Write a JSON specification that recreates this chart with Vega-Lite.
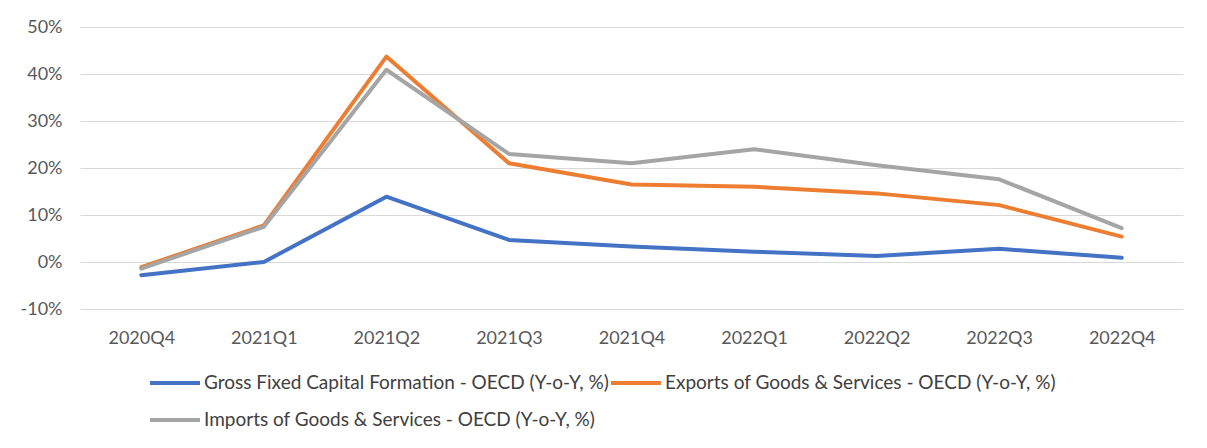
{
  "$schema": "https://vega.github.io/schema/vega-lite/v6.json",
  "width": 1103,
  "height": 282,
  "autosize": {"type": "none"},
  "padding": {"left": 80, "top": 27, "right": 24, "bottom": 139},
  "background": "white",
  "config": {
    "view": {"stroke": null},
    "font": "Lato",
    "axis": {"labelFont": "Lato", "labelColor": "#595959", "labelFontSize": 18}
  },
  "data": {
    "values": [
      {"quarter": "2020Q4", "series": "Gross Fixed Capital Formation - OECD (Y-o-Y, %)", "value": -0.028},
      {"quarter": "2021Q1", "series": "Gross Fixed Capital Formation - OECD (Y-o-Y, %)", "value": 0.0},
      {"quarter": "2021Q2", "series": "Gross Fixed Capital Formation - OECD (Y-o-Y, %)", "value": 0.139},
      {"quarter": "2021Q3", "series": "Gross Fixed Capital Formation - OECD (Y-o-Y, %)", "value": 0.047},
      {"quarter": "2021Q4", "series": "Gross Fixed Capital Formation - OECD (Y-o-Y, %)", "value": 0.033},
      {"quarter": "2022Q1", "series": "Gross Fixed Capital Formation - OECD (Y-o-Y, %)", "value": 0.022},
      {"quarter": "2022Q2", "series": "Gross Fixed Capital Formation - OECD (Y-o-Y, %)", "value": 0.013},
      {"quarter": "2022Q3", "series": "Gross Fixed Capital Formation - OECD (Y-o-Y, %)", "value": 0.028},
      {"quarter": "2022Q4", "series": "Gross Fixed Capital Formation - OECD (Y-o-Y, %)", "value": 0.009},
      {"quarter": "2020Q4", "series": "Exports of Goods & Services - OECD (Y-o-Y, %)", "value": -0.011},
      {"quarter": "2021Q1", "series": "Exports of Goods & Services - OECD (Y-o-Y, %)", "value": 0.078},
      {"quarter": "2021Q2", "series": "Exports of Goods & Services - OECD (Y-o-Y, %)", "value": 0.437},
      {"quarter": "2021Q3", "series": "Exports of Goods & Services - OECD (Y-o-Y, %)", "value": 0.210},
      {"quarter": "2021Q4", "series": "Exports of Goods & Services - OECD (Y-o-Y, %)", "value": 0.165},
      {"quarter": "2022Q1", "series": "Exports of Goods & Services - OECD (Y-o-Y, %)", "value": 0.160},
      {"quarter": "2022Q2", "series": "Exports of Goods & Services - OECD (Y-o-Y, %)", "value": 0.146},
      {"quarter": "2022Q3", "series": "Exports of Goods & Services - OECD (Y-o-Y, %)", "value": 0.121},
      {"quarter": "2022Q4", "series": "Exports of Goods & Services - OECD (Y-o-Y, %)", "value": 0.054},
      {"quarter": "2020Q4", "series": "Imports of Goods & Services - OECD (Y-o-Y, %)", "value": -0.014},
      {"quarter": "2021Q1", "series": "Imports of Goods & Services - OECD (Y-o-Y, %)", "value": 0.075},
      {"quarter": "2021Q2", "series": "Imports of Goods & Services - OECD (Y-o-Y, %)", "value": 0.409},
      {"quarter": "2021Q3", "series": "Imports of Goods & Services - OECD (Y-o-Y, %)", "value": 0.230},
      {"quarter": "2021Q4", "series": "Imports of Goods & Services - OECD (Y-o-Y, %)", "value": 0.210},
      {"quarter": "2022Q1", "series": "Imports of Goods & Services - OECD (Y-o-Y, %)", "value": 0.240},
      {"quarter": "2022Q2", "series": "Imports of Goods & Services - OECD (Y-o-Y, %)", "value": 0.206},
      {"quarter": "2022Q3", "series": "Imports of Goods & Services - OECD (Y-o-Y, %)", "value": 0.176},
      {"quarter": "2022Q4", "series": "Imports of Goods & Services - OECD (Y-o-Y, %)", "value": 0.072}
    ]
  },
  "mark": {"type": "line", "strokeWidth": 4, "strokeCap": "round", "strokeJoin": "round"},
  "encoding": {
    "x": {
      "field": "quarter",
      "type": "ordinal",
      "scale": {"type": "point", "padding": 0.5},
      "axis": {"title": null, "labelAngle": 0, "domain": false, "ticks": false, "labelPadding": 20, "grid": false}
    },
    "y": {
      "field": "value",
      "type": "quantitative",
      "scale": {"domain": [-0.1, 0.5], "nice": false, "zero": false},
      "axis": {"title": null, "values": [-0.1, 0, 0.1, 0.2, 0.3, 0.4, 0.5], "labelExpr": "(datum.value < 0 ? '-' : '') + format(abs(datum.value), '.0%')", "domain": false, "ticks": false, "labelPadding": 18, "grid": true, "gridColor": "#d9d9d9", "gridWidth": 1}
    },
    "color": {
      "field": "series",
      "type": "nominal",
      "scale": {
        "domain": ["Gross Fixed Capital Formation - OECD (Y-o-Y, %)", "Exports of Goods & Services - OECD (Y-o-Y, %)", "Imports of Goods & Services - OECD (Y-o-Y, %)"],
        "range": ["#4472C4", "#ED7D31", "#A5A5A5"]
      },
      "legend": {
        "title": null,
        "orient": "none",
        "legendX": 68,
        "legendY": 329,
        "direction": "horizontal",
        "columns": 2,
        "symbolType": "stroke",
        "symbolSize": 2500,
        "symbolStrokeWidth": 4,
        "labelFont": "Lato",
        "labelFontSize": 19,
        "labelColor": "#404040",
        "labelOffset": 2,
        "labelLimit": 600,
        "rowPadding": -1,
        "columnPadding": -7
      }
    }
  }
}
